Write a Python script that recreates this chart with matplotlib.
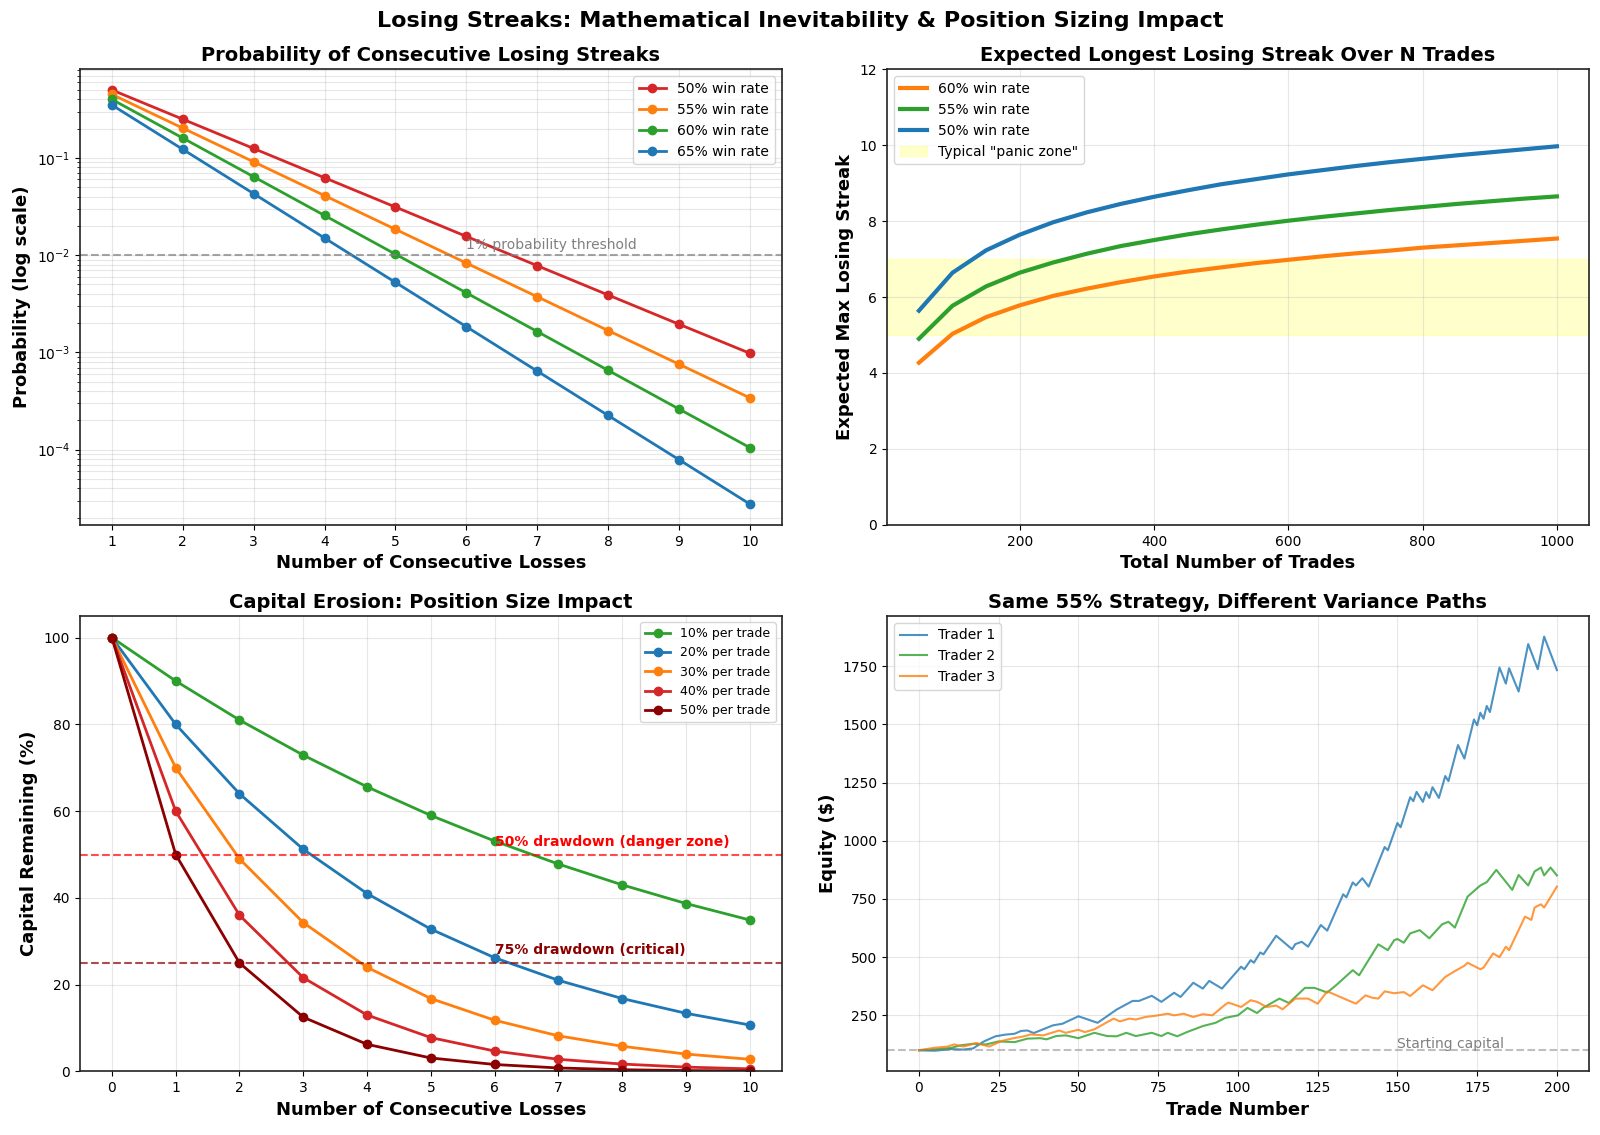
import numpy as np
import matplotlib
matplotlib.use("Agg")
import matplotlib.pyplot as plt

plt.rcParams['axes.linewidth'] = 1.2
plt.rcParams['axes.edgecolor'] = '#222222'

# --- panel 1: probability of k consecutive losses
streak_len = [1, 2, 3, 4, 5, 6, 7, 8, 9, 10]
prob_50 = [0.5, 0.25, 0.125, 0.0625, 0.03125, 0.0156, 0.0078, 0.0039, 0.00195, 0.00098]
prob_55 = [0.45, 0.2025, 0.0911, 0.0410, 0.01845, 0.0083, 0.00374, 0.00168, 0.000757, 0.000341]
prob_60 = [0.4, 0.16, 0.064, 0.0256, 0.01024, 0.0041, 0.00164, 0.000655, 0.000262, 0.000105]
prob_65 = [0.35, 0.1225, 0.0429, 0.0150, 0.00525, 0.00184, 0.000643, 0.000225, 0.000079, 0.0000276]

# --- panel 2: expected longest losing streak
n_trades = [50, 100, 150, 200, 250, 300, 350, 400, 450, 500,
            550, 600, 650, 700, 750, 800, 850, 900, 950, 1000]
streak_60 = [4.27, 5.03, 5.47, 5.78, 6.03, 6.22, 6.39, 6.54, 6.67, 6.78,
             6.89, 6.98, 7.07, 7.15, 7.22, 7.30, 7.36, 7.42, 7.48, 7.54]
streak_55 = [4.90, 5.77, 6.28, 6.64, 6.91, 7.14, 7.34, 7.50, 7.65, 7.78,
             7.90, 8.01, 8.11, 8.20, 8.29, 8.37, 8.45, 8.52, 8.59, 8.65]
streak_50 = [5.64, 6.64, 7.23, 7.64, 7.97, 8.23, 8.45, 8.64, 8.81, 8.97,
             9.10, 9.23, 9.34, 9.45, 9.55, 9.64, 9.73, 9.81, 9.89, 9.97]

# --- panel 3: capital erosion
losses = [0, 1, 2, 3, 4, 5, 6, 7, 8, 9, 10]
cap_10 = [100, 90, 81, 72.9, 65.6, 59.0, 53.1, 47.8, 43.0, 38.7, 34.9]
cap_20 = [100, 80, 64, 51.2, 41.0, 32.8, 26.2, 21.0, 16.8, 13.4, 10.7]
cap_30 = [100, 70, 49, 34.3, 24.0, 16.8, 11.8, 8.2, 5.8, 4.0, 2.8]
cap_40 = [100, 60, 36, 21.6, 13.0, 7.8, 4.7, 2.8, 1.7, 1.0, 0.6]
cap_50 = [100, 50, 25, 12.5, 6.25, 3.1, 1.6, 0.8, 0.4, 0.2, 0.1]

# --- panel 4: equity paths (vertices)
t1_x = [0, 5, 10, 14, 17, 20, 21, 24, 27, 30, 32, 34, 36, 38, 42, 45, 50, 56, 62, 67,
        69, 73, 76, 80, 82, 86, 89, 91, 95, 101, 102, 104, 105, 107, 108, 112, 117, 118, 120, 122,
        126, 128, 133, 134, 136, 137, 139, 141, 146, 147, 150, 151, 154, 155, 156, 158, 159, 160, 161, 163,
        165, 166, 169, 171, 174, 175, 176, 177, 178, 179, 182, 184, 185, 188, 191, 194, 196, 200]
t1_y = [100, 98, 105, 103, 108, 135, 142, 160, 167, 171, 183, 185, 174, 185, 207, 214, 246, 218, 275, 312,
        312, 334, 308, 347, 329, 390, 365, 398, 365, 459, 448, 487, 476, 520, 512, 592, 534, 556, 566, 545,
        638, 614, 770, 757, 821, 808, 839, 803, 973, 959, 1076, 1058, 1187, 1170, 1210, 1167, 1209, 1184, 1230, 1184,
        1278, 1256, 1411, 1353, 1521, 1496, 1550, 1524, 1579, 1553, 1744, 1675, 1741, 1641, 1845, 1737, 1877, 1733]
t2_x = [0, 5, 10, 13, 17, 21, 25, 30, 34, 38, 40, 43, 46, 50, 55, 59, 62, 65, 68, 73,
        76, 78, 81, 84, 89, 93, 96, 100, 103, 106, 108, 113, 116, 118, 121, 124, 128, 131, 136, 138,
        144, 147, 149, 150, 152, 154, 157, 160, 164, 166, 168, 172, 176, 178, 181, 186, 188, 191, 193, 195,
        196, 198, 200]
t2_y = [100, 104, 110, 121, 128, 125, 138, 135, 150, 152, 147, 161, 164, 152, 175, 161, 160, 175, 161, 175,
        161, 175, 160, 178, 204, 218, 239, 250, 282, 260, 283, 322, 303, 329, 368, 368, 348, 382, 444, 422,
        555, 530, 573, 578, 562, 602, 616, 581, 641, 652, 627, 760, 808, 822, 875, 789, 853, 808, 868, 885,
        851, 885, 851]
t3_x = [0, 5, 9, 11, 14, 18, 22, 26, 29, 33, 35, 39, 44, 46, 50, 52, 55, 61, 63, 66,
        68, 71, 74, 78, 80, 83, 86, 89, 92, 96, 97, 101, 104, 106, 109, 112, 114, 118, 122, 125,
        128, 137, 140, 142, 144, 146, 149, 152, 154, 157, 158, 161, 165, 168, 171, 172, 176, 177, 180, 182,
        184, 185, 190, 192, 193, 195, 196, 200]
t3_y = [100, 111, 116, 125, 116, 131, 116, 140, 150, 160, 168, 164, 185, 175, 188, 178, 190, 236, 224, 236,
        232, 243, 248, 257, 250, 257, 243, 255, 250, 296, 305, 286, 315, 308, 286, 292, 276, 322, 322, 300,
        353, 300, 336, 326, 322, 353, 345, 350, 333, 368, 379, 358, 415, 440, 463, 476, 448, 455, 516, 500,
        545, 530, 674, 660, 713, 727, 713, 803]

fig, axes = plt.subplots(2, 2, figsize=(16, 11.35), dpi=100)
fig.subplots_adjust(left=0.05, right=0.993, top=0.939, bottom=0.056, wspace=0.15, hspace=0.2)
fig.suptitle('Losing Streaks: Mathematical Inevitability & Position Sizing Impact',
             fontsize=16, fontweight='bold', y=0.99)

# Panel 1
ax = axes[0, 0]
ax.semilogy(streak_len, prob_50, 'o-', color='#d62728', lw=2, ms=6, label='50% win rate')
ax.semilogy(streak_len, prob_55, 'o-', color='#ff7f0e', lw=2, ms=6, label='55% win rate')
ax.semilogy(streak_len, prob_60, 'o-', color='#2ca02c', lw=2, ms=6, label='60% win rate')
ax.semilogy(streak_len, prob_65, 'o-', color='#1f77b4', lw=2, ms=6, label='65% win rate')
ax.axhline(0.01, color='gray', ls='--', alpha=0.7)
ax.text(6, 0.0115, '1% probability threshold', fontsize=10, color='gray')
ax.set_xticks(streak_len)
ax.set_xlabel('Number of Consecutive Losses', fontsize=13, fontweight='bold')
ax.set_ylabel('Probability (log scale)', fontsize=13, fontweight='bold')
ax.set_title('Probability of Consecutive Losing Streaks', fontsize=14, fontweight='bold')
ax.grid(True, which='both', alpha=0.3)
ax.legend(loc='upper right', fontsize=10)

# Panel 2
ax = axes[0, 1]
ax.plot(n_trades, streak_60, color='#ff7f0e', lw=3, label='60% win rate')
ax.plot(n_trades, streak_55, color='#2ca02c', lw=3, label='55% win rate')
ax.plot(n_trades, streak_50, color='#1f77b4', lw=3, label='50% win rate')
ax.axhspan(5, 7, color='yellow', alpha=0.2, label='Typical "panic zone"')
ax.set_ylim(0, 12)
ax.set_xlabel('Total Number of Trades', fontsize=13, fontweight='bold')
ax.set_ylabel('Expected Max Losing Streak', fontsize=13, fontweight='bold')
ax.set_title('Expected Longest Losing Streak Over N Trades', fontsize=14, fontweight='bold')
ax.grid(True, alpha=0.3)
ax.legend(loc='upper left', fontsize=10)

# Panel 3
ax = axes[1, 0]
ax.plot(losses, cap_10, 'o-', color='#2ca02c', lw=2, ms=6, label='10% per trade')
ax.plot(losses, cap_20, 'o-', color='#1f77b4', lw=2, ms=6, label='20% per trade')
ax.plot(losses, cap_30, 'o-', color='#ff7f0e', lw=2, ms=6, label='30% per trade')
ax.plot(losses, cap_40, 'o-', color='#d62728', lw=2, ms=6, label='40% per trade')
ax.plot(losses, cap_50, 'o-', color='darkred', lw=2, ms=6, label='50% per trade')
ax.axhline(50, color='red', ls='--', lw=1.5, alpha=0.7)
ax.axhline(25, color='darkred', ls='--', lw=1.5, alpha=0.7)
ax.text(6, 52, '50% drawdown (danger zone)', color='red', fontsize=10, fontweight='bold')
ax.text(6, 27, '75% drawdown (critical)', color='darkred', fontsize=10, fontweight='bold')
ax.set_xticks(losses)
ax.set_ylim(0, 105)
ax.set_xlabel('Number of Consecutive Losses', fontsize=13, fontweight='bold')
ax.set_ylabel('Capital Remaining (%)', fontsize=13, fontweight='bold')
ax.set_title('Capital Erosion: Position Size Impact', fontsize=14, fontweight='bold')
ax.grid(True, alpha=0.3)
ax.legend(loc='upper right', fontsize=9)

# Panel 4
ax = axes[1, 1]
ax.plot(t1_x, t1_y, color='#1f77b4', lw=1.5, alpha=0.8, label='Trader 1')
ax.plot(t2_x, t2_y, color='#2ca02c', lw=1.5, alpha=0.8, label='Trader 2')
ax.plot(t3_x, t3_y, color='#ff7f0e', lw=1.5, alpha=0.8, label='Trader 3')
ax.axhline(100, color='gray', ls='--', alpha=0.5)
ax.text(150, 110, 'Starting capital', fontsize=10, color='gray')
ax.set_xlabel('Trade Number', fontsize=13, fontweight='bold')
ax.set_ylabel('Equity ($)', fontsize=13, fontweight='bold')
ax.set_title('Same 55% Strategy, Different Variance Paths', fontsize=14, fontweight='bold')
ax.grid(True, alpha=0.3)
ax.legend(loc='upper left', fontsize=10)

fig.savefig('out.png', dpi=100)
